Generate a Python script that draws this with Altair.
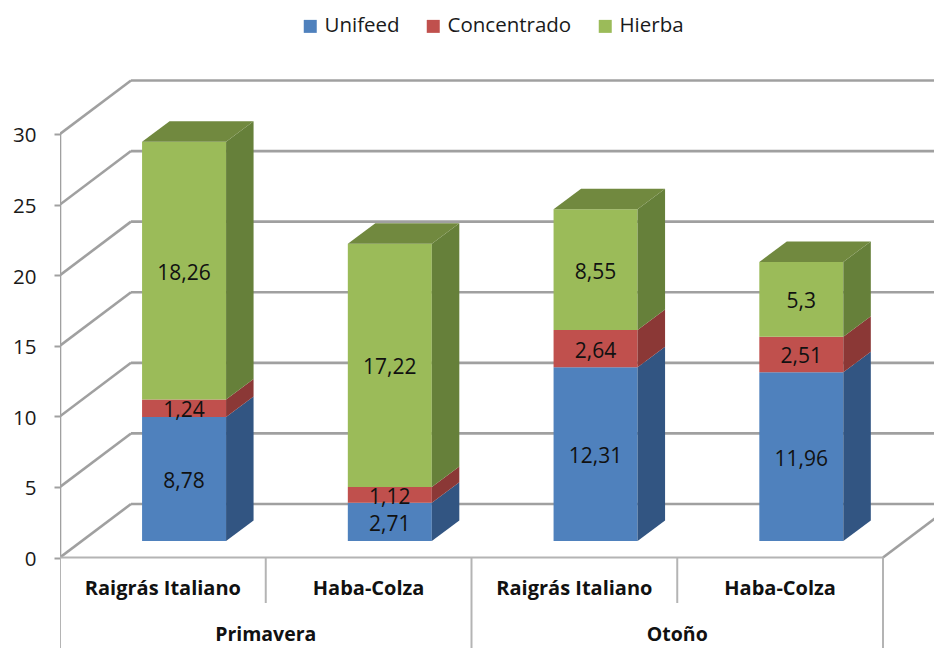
import altair as alt
import pandas as pd

# --- values ---
SERIES = ["Unifeed", "Concentrado", "Hierba"]
FRONT = ["#4f81bd", "#c0504d", "#9bbb59"]
SIDE = ["#325582", "#8b3836", "#66803a"]
TOP = "#71893f"
CATEGORIES = ["Raigrás Italiano", "Haba-Colza", "Raigrás Italiano", "Haba-Colza"]
GROUPS = ["Primavera", "Otoño"]
UNIFEED = [8.78, 2.71, 12.31, 11.96]
CONCENTRADO = [1.24, 1.12, 2.64, 2.51]
HIERBA = [18.26, 17.22, 8.55, 5.3]
TICKS = [0, 5, 10, 15, 20, 25, 30]
FONT = "Open Sans"

# --- 3-D projection, in scale units (one category wide, one value unit tall) ---
PX_X = 205.75
PX_Y = 14.117
WALL_DX, WALL_DY = 71 / PX_X, 53.5 / PX_Y
BAR_W = 84 / PX_X
BAR_DX, BAR_DY = 27.5 / PX_X, 20.5 / PX_Y
BASE = 16.5 / PX_Y
SHIFT = 0.103
XMAX = 874 / PX_X
YTOP, YBOT = (557.5 - 8) / PX_Y, (557.5 - 648) / PX_Y
ROW1, ROW2 = (557.5 - 588) / PX_Y, (557.5 - 635) / PX_Y
TABLE_MID = (557.5 - 603) / PX_Y

xs = alt.Scale(domain=[0, XMAX], nice=False, zero=False)
ys = alt.Scale(domain=[YBOT, YTOP], nice=False, zero=False)
YAXIS = alt.Axis(
    values=TICKS, title=None, grid=False, domain=False, tickSize=6, tickWidth=2,
    tickColor="#a0a0a0", labelFont=FONT, labelFontSize=20.5, labelColor="#1a1a1a",
    labelPadding=18, labelOffset=2, format="d",
)
X = lambda f="x": alt.X(f"{f}:Q", scale=xs, axis=None)
Y = lambda f="y": alt.Y(f"{f}:Q", scale=ys, axis=YAXIS, stack=None)

# wall and floor lines
wall = []
def seg(rows, name, x0, y0, x1, y1):
    rows.append(dict(id=name, x=x0, y=y0))
    rows.append(dict(id=name, x=x1, y=y1))

for v in TICKS:
    seg(wall, f"d{v}", 0, v, WALL_DX, v + WALL_DY)
    seg(wall, f"h{v}", WALL_DX, v + WALL_DY, XMAX, v + WALL_DY)
seg(wall, "axis", 0, 0, 0, TICKS[-1])
seg(wall, "corner", 4, 0, 4 + WALL_DX, WALL_DY)

table = []
seg(table, "base", 0, 0, 4, 0)
for i in (0, 2, 4):
    seg(table, f"v{i}", i, 0, i, YBOT)
for i in (1, 3):
    seg(table, f"v{i}", i, 0, i, TABLE_MID)

# bar faces
fronts, faces, labels = [], [], []
for i in range(4):
    cx = i + 0.5 + SHIFT
    l, r = cx - BAR_W / 2, cx + BAR_W / 2
    a = BASE
    for j, vals in enumerate([UNIFEED, CONCENTRADO, HIERBA]):
        b = a + vals[i]
        fronts.append(dict(x=l, x2=r, y=a, y2=b, s=SERIES[j]))
        labels.append(dict(x=cx, y=(a + b) / 2, t=str(vals[i]).replace(".", ",")))
        fid = f"s{i}{j}"
        faces.append(dict(id=fid, x=r, y=a, y2=b, f=SIDE[j]))
        faces.append(dict(id=fid, x=r + BAR_DX, y=a + BAR_DY, y2=b + BAR_DY, f=SIDE[j]))
        a = b
    fid = f"t{i}"
    faces.append(dict(id=fid, x=l, y=a, y2=a, f=TOP))
    faces.append(dict(id=fid, x=l + BAR_DX, y=a, y2=a + BAR_DY, f=TOP))
    faces.append(dict(id=fid, x=r, y=a, y2=a + BAR_DY, f=TOP))
    faces.append(dict(id=fid, x=r + BAR_DX, y=a + BAR_DY, y2=a + BAR_DY, f=TOP))

cat_df = pd.DataFrame(dict(x=[i + 0.5 for i in range(4)], y=[ROW1] * 4, t=CATEGORIES))
grp_df = pd.DataFrame(dict(x=[1, 3], y=[ROW2] * 2, t=GROUPS))

wall_layer = alt.Chart(pd.DataFrame(wall)).mark_line(
    color="#a0a0a0", strokeWidth=2.6, clip=True
).encode(x=X(), y=Y(), detail="id:N")

table_layer = alt.Chart(pd.DataFrame(table)).mark_line(
    color="#b4b4b4", strokeWidth=2, clip=True
).encode(x=X(), y=Y(), detail="id:N")

faces_df = pd.DataFrame(faces)
face_layers = [
    alt.Chart(faces_df[faces_df.f == c]).mark_area(color=c).encode(
        x=X(), y=Y(), y2="y2:Q", detail="id:N",
    )
    for c in SIDE + [TOP]
]

front_layer = alt.Chart(pd.DataFrame(fronts)).mark_bar().encode(
    x=X(), x2="x2:Q",
    y=Y(),
    y2="y2:Q",
    color=alt.Color("s:N", scale=alt.Scale(domain=SERIES, range=FRONT), legend=alt.Legend(
        title=None, orient="none", legendX=240, legendY=8, direction="horizontal",
        columns=3, columnPadding=23, symbolType="square", symbolSize=169, symbolStrokeWidth=0,
        labelFont=FONT, labelFontSize=20.5, labelColor="#1a1a1a", labelOffset=4,
    )),
)

label_layer = alt.Chart(pd.DataFrame(labels)).mark_text(
    font=FONT, fontSize=21, color="#111111", baseline="middle", dy=3
).encode(x=X(), y=Y(), text="t:N")

cat_layer = alt.Chart(cat_df).mark_text(
    font=FONT, fontSize=20, fontWeight="bold", color="#111111", baseline="middle", dy=1
).encode(x=X(), y=Y(), text="t:N")

grp_layer = alt.Chart(grp_df).mark_text(
    font=FONT, fontSize=19.5, fontWeight="bold", color="#111111", baseline="middle"
).encode(x=X(), y=Y(), text="t:N")

chart = alt.layer(
    wall_layer, table_layer, front_layer, *face_layers, label_layer, cat_layer, grp_layer
).properties(
    width=874, height=640,
    autosize=alt.AutoSizeParams(type="none"),
    padding={"left": 52, "top": 0, "right": 0, "bottom": 0},
).configure_view(stroke=None)

chart.save("out.html", embed_options={"renderer": "svg", "actions": False})
